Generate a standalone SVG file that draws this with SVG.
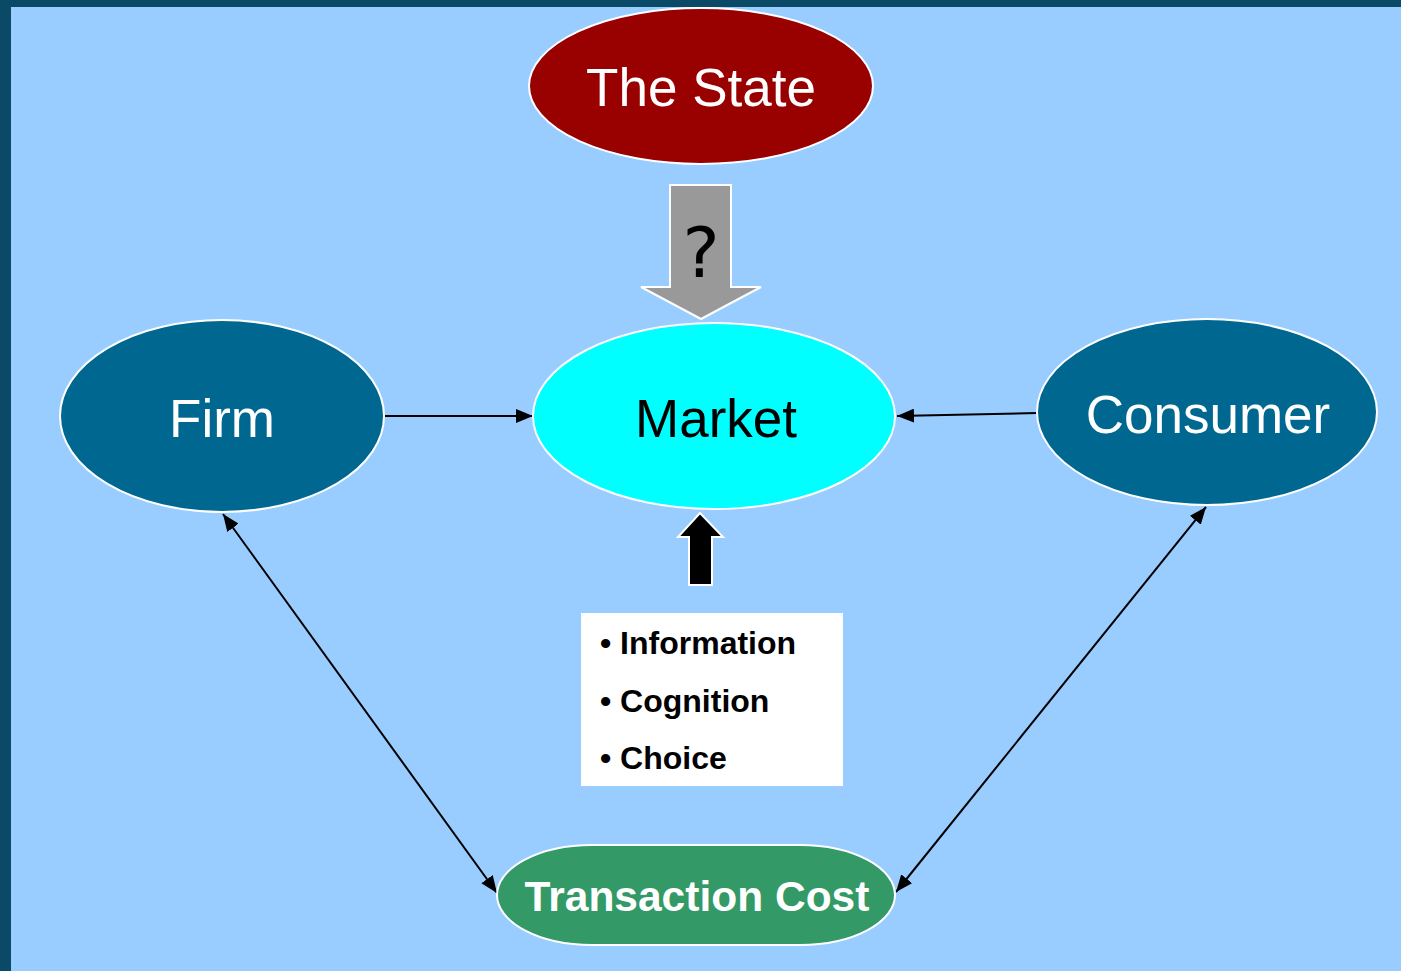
<svg xmlns="http://www.w3.org/2000/svg" width="1401" height="971" viewBox="0 0 1401 971">
<style>
.node{stroke:#ffffff;stroke-width:2}
.lbl{font-family:"Liberation Sans",Arial,sans-serif;font-size:53px;text-anchor:middle}
.bul{font-family:"Liberation Sans",Arial,sans-serif;font-size:32px;font-weight:bold;fill:#000}
.con{stroke:#000;stroke-width:2;fill:none}
</style>
<defs>
<marker id="ah" markerUnits="userSpaceOnUse" markerWidth="18" markerHeight="14" refX="17" refY="7" orient="auto-start-reverse">
<path d="M0,0 L17,7 L0,14 Z" fill="#000"/>
</marker>
</defs>
<rect x="0" y="0" width="1401" height="971" fill="#0a4a66"/>
<rect x="11" y="7" width="1390" height="964" fill="#99ccff"/>
<g id="connectors">
<line class="con" x1="384" y1="416" x2="533" y2="416" marker-end="url(#ah)"/>
<line class="con" x1="1037" y1="413" x2="897" y2="416" marker-end="url(#ah)"/>
<line class="con" x1="223" y1="514" x2="497" y2="893" marker-start="url(#ah)" marker-end="url(#ah)"/>
<line class="con" x1="1206" y1="507" x2="896" y2="892" marker-start="url(#ah)" marker-end="url(#ah)"/>
</g>
<g id="state">
<ellipse class="node" cx="701" cy="86" rx="172" ry="78" fill="#990000"/>
<text class="lbl" x="701" y="106" fill="#fff">The State</text>
</g>
<g id="gray-arrow">
<path d="M670,185 L731,185 L731,287 L761,287 L701,319 L641,287 L670,287 Z" fill="#999999" stroke="#fff" stroke-width="2"/>
<text x="701" y="277" font-family="DejaVu Sans,sans-serif" font-size="70" text-anchor="middle" fill="#000">?</text>
</g>
<g id="firm">
<ellipse class="node" cx="222" cy="416" rx="162" ry="96" fill="#006890"/>
<text class="lbl" x="222" y="437" fill="#fff">Firm</text>
</g>
<g id="market">
<ellipse class="node" cx="714" cy="416" rx="181" ry="93" fill="#00ffff"/>
<text class="lbl" x="716" y="437" fill="#000">Market</text>
</g>
<g id="consumer">
<ellipse class="node" cx="1207" cy="412" rx="170" ry="93" fill="#006890"/>
<text class="lbl" x="1208" y="433" fill="#fff">Consumer</text>
</g>
<g id="black-arrow">
<path d="M689,585 L712,585 L712,537 L723,537 L700,513 L678,537 L689,537 Z" fill="#000" stroke="#fff" stroke-width="2"/>
</g>
<g id="factors">
<rect x="581" y="613" width="262" height="173" fill="#fff"/>
<text class="bul" x="600" y="654">• Information</text>
<text class="bul" x="600" y="712">• Cognition</text>
<text class="bul" x="600" y="769">• Choice</text>
</g>
<g id="transaction-cost">
<rect class="node" x="497" y="845" width="398" height="100" rx="95" ry="50" fill="#339966"/>
<text x="697" y="911" font-family="Liberation Sans,Arial,sans-serif" font-size="42.5" font-weight="bold" text-anchor="middle" fill="#fff">Transaction Cost</text>
</g>
</svg>
